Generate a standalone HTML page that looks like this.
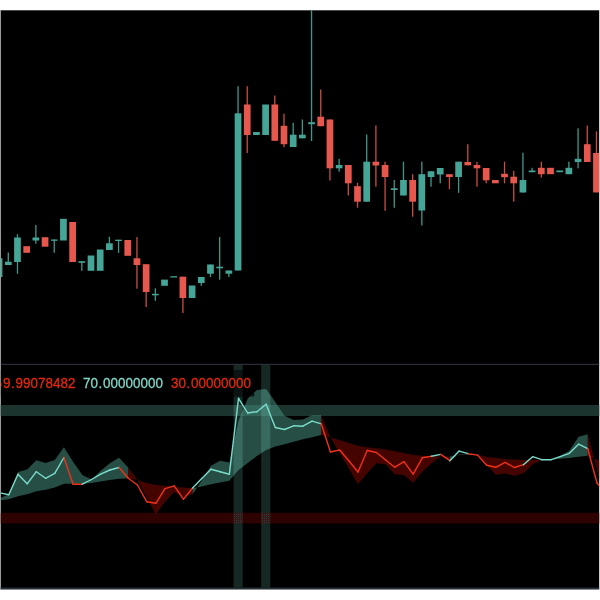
<!DOCTYPE html>
<html><head><meta charset="utf-8"><title>chart</title>
<style>
html,body{margin:0;padding:0;background:#fff;}
body{width:600px;height:600px;overflow:hidden;position:relative;font-family:"Liberation Sans",sans-serif;}
svg{position:absolute;left:0;top:0;display:block}
text{font-family:"Liberation Sans",sans-serif;}
</style></head><body>
<svg width="600" height="600" viewBox="0 0 600 600">
<rect x="0" y="0" width="600" height="600" fill="#ffffff"/>
<rect x="0.6" y="10.3" width="598.6" height="579" fill="#000000"/>
<rect x="0" y="10.2" width="1" height="579" fill="#9a9a9a"/>
<rect x="0.6" y="587.6" width="598.6" height="1.7" fill="#27323d"/>
<clipPath id="c"><rect x="0.8" y="10.2" width="598.4" height="577.5"/></clipPath>
<g clip-path="url(#c)">

<g id="candles">
<rect x="-4.25" y="258.3" width="6.70" height="18.7" fill="#45a597"/>
<rect x="7.64" y="252.5" width="1.3" height="12.5" fill="#3f978a"/>
<rect x="4.94" y="261.7" width="6.70" height="3.3" fill="#45a597"/>
<rect x="16.83" y="234.2" width="1.3" height="39.6" fill="#3f978a"/>
<rect x="14.13" y="237.5" width="6.70" height="24.5" fill="#45a597"/>
<rect x="23.32" y="246.2" width="6.70" height="6.6" fill="#e6584e"/>
<rect x="35.21" y="225.0" width="1.3" height="18.7" fill="#3f978a"/>
<rect x="32.51" y="237.5" width="6.70" height="3.0" fill="#45a597"/>
<rect x="41.70" y="237.2" width="6.70" height="9.5" fill="#e6584e"/>
<rect x="53.59" y="239.5" width="1.3" height="13.3" fill="#3f978a"/>
<rect x="50.89" y="239.5" width="6.70" height="1.3" fill="#45a597"/>
<rect x="60.08" y="218.8" width="6.70" height="21.7" fill="#45a597"/>
<rect x="69.27" y="222.0" width="6.70" height="40.0" fill="#e6584e"/>
<rect x="81.16" y="261.2" width="1.3" height="9.6" fill="#3f978a"/>
<rect x="78.46" y="261.2" width="6.70" height="1.6" fill="#45a597"/>
<rect x="87.65" y="255.5" width="6.70" height="15.3" fill="#45a597"/>
<rect x="96.84" y="249.5" width="6.70" height="21.3" fill="#45a597"/>
<rect x="108.73" y="236.7" width="1.3" height="13.3" fill="#3f978a"/>
<rect x="106.03" y="243.3" width="6.70" height="6.7" fill="#45a597"/>
<rect x="117.92" y="239.7" width="1.3" height="13.1" fill="#3f978a"/>
<rect x="115.22" y="239.7" width="6.70" height="1.3" fill="#45a597"/>
<rect x="124.41" y="240.0" width="6.70" height="15.8" fill="#e6584e"/>
<rect x="136.30" y="237.0" width="1.3" height="51.7" fill="#c94d44"/>
<rect x="133.60" y="258.3" width="6.70" height="6.7" fill="#e6584e"/>
<rect x="145.49" y="264.2" width="1.3" height="42.8" fill="#c94d44"/>
<rect x="142.79" y="264.2" width="6.70" height="27.8" fill="#e6584e"/>
<rect x="154.68" y="288.3" width="1.3" height="12.5" fill="#3f978a"/>
<rect x="151.98" y="293.8" width="6.70" height="1.5" fill="#45a597"/>
<rect x="161.17" y="279.6" width="6.70" height="6.2" fill="#45a597"/>
<rect x="170.36" y="276.2" width="6.70" height="1.3" fill="#45a597"/>
<rect x="182.25" y="276.7" width="1.3" height="36.3" fill="#c94d44"/>
<rect x="179.55" y="276.7" width="6.70" height="21.3" fill="#e6584e"/>
<rect x="188.74" y="285.5" width="6.70" height="12.5" fill="#45a597"/>
<rect x="200.63" y="277.0" width="1.3" height="8.8" fill="#3f978a"/>
<rect x="197.93" y="277.0" width="6.70" height="6.0" fill="#45a597"/>
<rect x="209.82" y="264.5" width="1.3" height="12.5" fill="#3f978a"/>
<rect x="207.12" y="264.5" width="6.70" height="9.2" fill="#45a597"/>
<rect x="219.01" y="237.0" width="1.3" height="42.7" fill="#3f978a"/>
<rect x="216.31" y="266.7" width="6.70" height="1.6" fill="#45a597"/>
<rect x="228.20" y="270.5" width="1.3" height="6.5" fill="#3f978a"/>
<rect x="225.50" y="270.5" width="6.70" height="3.2" fill="#45a597"/>
<rect x="237.39" y="86.2" width="1.3" height="184.3" fill="#3f978a"/>
<rect x="234.69" y="113.3" width="6.70" height="157.2" fill="#45a597"/>
<rect x="246.58" y="86.2" width="1.3" height="66.8" fill="#c94d44"/>
<rect x="243.88" y="104.5" width="6.70" height="30.5" fill="#e6584e"/>
<rect x="253.07" y="132.0" width="6.70" height="3.0" fill="#45a597"/>
<rect x="262.26" y="104.5" width="6.70" height="30.5" fill="#45a597"/>
<rect x="274.15" y="95.5" width="1.3" height="45.3" fill="#c94d44"/>
<rect x="271.45" y="104.5" width="6.70" height="36.3" fill="#e6584e"/>
<rect x="283.34" y="113.7" width="1.3" height="33.5" fill="#c94d44"/>
<rect x="280.64" y="125.8" width="6.70" height="18.4" fill="#e6584e"/>
<rect x="292.53" y="122.8" width="1.3" height="24.2" fill="#3f978a"/>
<rect x="289.83" y="134.7" width="6.70" height="12.3" fill="#45a597"/>
<rect x="301.72" y="119.5" width="1.3" height="18.8" fill="#3f978a"/>
<rect x="299.02" y="134.7" width="6.70" height="3.6" fill="#45a597"/>
<rect x="310.91" y="10.0" width="1.3" height="131.0" fill="#3f978a"/>
<rect x="308.21" y="122.2" width="6.70" height="2.0" fill="#45a597"/>
<rect x="320.10" y="89.5" width="1.3" height="36.7" fill="#c94d44"/>
<rect x="317.40" y="116.7" width="6.70" height="9.5" fill="#e6584e"/>
<rect x="329.29" y="119.5" width="1.3" height="61.0" fill="#c94d44"/>
<rect x="326.59" y="119.5" width="6.70" height="48.8" fill="#e6584e"/>
<rect x="338.48" y="158.8" width="1.3" height="12.9" fill="#3f978a"/>
<rect x="335.78" y="165.0" width="6.70" height="3.3" fill="#45a597"/>
<rect x="347.67" y="165.0" width="1.3" height="30.5" fill="#c94d44"/>
<rect x="344.97" y="165.0" width="6.70" height="18.3" fill="#e6584e"/>
<rect x="356.86" y="182.8" width="1.3" height="25.0" fill="#c94d44"/>
<rect x="354.16" y="186.2" width="6.70" height="15.5" fill="#e6584e"/>
<rect x="366.05" y="134.5" width="1.3" height="67.2" fill="#3f978a"/>
<rect x="363.35" y="161.7" width="6.70" height="40.0" fill="#45a597"/>
<rect x="375.24" y="125.5" width="1.3" height="61.2" fill="#c94d44"/>
<rect x="372.54" y="161.7" width="6.70" height="3.8" fill="#e6584e"/>
<rect x="384.43" y="161.7" width="1.3" height="49.1" fill="#c94d44"/>
<rect x="381.73" y="165.0" width="6.70" height="12.0" fill="#e6584e"/>
<rect x="393.62" y="180.0" width="1.3" height="27.8" fill="#3f978a"/>
<rect x="390.92" y="188.3" width="6.70" height="1.7" fill="#45a597"/>
<rect x="402.81" y="161.7" width="1.3" height="33.8" fill="#3f978a"/>
<rect x="400.11" y="180.0" width="6.70" height="15.5" fill="#45a597"/>
<rect x="412.00" y="174.2" width="1.3" height="42.5" fill="#c94d44"/>
<rect x="409.30" y="180.0" width="6.70" height="21.7" fill="#e6584e"/>
<rect x="421.19" y="161.7" width="1.3" height="63.8" fill="#3f978a"/>
<rect x="418.49" y="174.2" width="6.70" height="36.3" fill="#45a597"/>
<rect x="430.38" y="171.3" width="1.3" height="15.4" fill="#3f978a"/>
<rect x="427.68" y="171.3" width="6.70" height="5.7" fill="#45a597"/>
<rect x="439.57" y="168.0" width="1.3" height="15.3" fill="#3f978a"/>
<rect x="436.87" y="168.0" width="6.70" height="6.5" fill="#45a597"/>
<rect x="448.76" y="174.2" width="1.3" height="15.0" fill="#c94d44"/>
<rect x="446.06" y="174.2" width="6.70" height="2.8" fill="#e6584e"/>
<rect x="457.95" y="161.7" width="1.3" height="31.1" fill="#3f978a"/>
<rect x="455.25" y="161.7" width="6.70" height="15.3" fill="#45a597"/>
<rect x="467.14" y="144.2" width="1.3" height="21.1" fill="#c94d44"/>
<rect x="464.44" y="162.0" width="6.70" height="3.3" fill="#e6584e"/>
<rect x="476.33" y="162.0" width="1.3" height="24.7" fill="#c94d44"/>
<rect x="473.63" y="165.0" width="6.70" height="3.3" fill="#e6584e"/>
<rect x="485.52" y="168.0" width="1.3" height="15.3" fill="#c94d44"/>
<rect x="482.82" y="168.0" width="6.70" height="12.3" fill="#e6584e"/>
<rect x="492.01" y="180.0" width="6.70" height="3.3" fill="#e6584e"/>
<rect x="503.90" y="161.7" width="1.3" height="21.6" fill="#c94d44"/>
<rect x="501.20" y="173.8" width="6.70" height="3.4" fill="#e6584e"/>
<rect x="513.09" y="170.8" width="1.3" height="30.9" fill="#c94d44"/>
<rect x="510.39" y="176.7" width="6.70" height="6.6" fill="#e6584e"/>
<rect x="522.28" y="152.8" width="1.3" height="39.7" fill="#3f978a"/>
<rect x="519.58" y="180.0" width="6.70" height="12.5" fill="#45a597"/>
<rect x="531.47" y="167.8" width="1.3" height="4.4" fill="#3f978a"/>
<rect x="528.77" y="170.5" width="6.70" height="1.7" fill="#45a597"/>
<rect x="540.66" y="161.7" width="1.3" height="15.8" fill="#c94d44"/>
<rect x="537.96" y="167.8" width="6.70" height="6.4" fill="#e6584e"/>
<rect x="547.15" y="167.8" width="6.70" height="6.4" fill="#e6584e"/>
<rect x="556.34" y="170.5" width="6.70" height="1.7" fill="#45a597"/>
<rect x="568.23" y="161.7" width="1.3" height="12.5" fill="#3f978a"/>
<rect x="565.53" y="167.8" width="6.70" height="6.4" fill="#45a597"/>
<rect x="577.42" y="128.3" width="1.3" height="40.0" fill="#3f978a"/>
<rect x="574.72" y="158.8" width="6.70" height="3.2" fill="#45a597"/>
<rect x="586.61" y="125.5" width="1.3" height="36.5" fill="#c94d44"/>
<rect x="583.91" y="144.2" width="6.70" height="17.8" fill="#e6584e"/>
<rect x="595.80" y="131.4" width="1.3" height="61.0" fill="#c94d44"/>
<rect x="593.10" y="153.0" width="6.70" height="39.4" fill="#e6584e"/>
</g>
<rect x="0" y="363.8" width="600" height="1.2" fill="#2b3038"/>
<rect x="0" y="405" width="600" height="11" fill="#1c342e"/>
<rect x="0" y="512.8" width="600" height="10.6" fill="#2d0200"/>
<g id="fills">
<polygon points="-0.40,498.5 8.79,494.3 17.98,472.0 27.17,469.5 36.36,460.3 45.55,463.0 54.74,460.0 63.93,447.2 73.12,461.7 82.31,475.0 91.50,479.5 100.69,470.8 109.88,463.3 119.07,457.8 128.26,467.5 128.26,478.3 119.07,478.7 109.88,480.0 100.69,481.5 91.50,483.0 82.31,483.7 73.12,483.7 63.93,483.7 54.74,487.5 45.55,489.7 36.36,491.3 27.17,494.2 17.98,496.3 8.79,499.3 -0.40,500.2" fill="rgba(72,150,132,0.52)" fill-rule="nonzero"/>
<polygon points="128.26,467.5 137.45,480.0 146.64,497.0 155.83,514.2 165.02,501.7 174.21,492.0 183.40,496.7 192.59,494.2 192.59,488.2 183.40,487.5 174.21,487.0 165.02,485.8 155.83,485.0 146.64,483.0 137.45,480.0 128.26,478.3" fill="rgba(110,8,0,0.62)" fill-rule="nonzero"/>
<polygon points="192.59,494.2 201.78,480.5 210.97,465.8 220.16,460.8 229.35,462.5 238.54,421.0 247.73,398.5 256.92,390.0 266.11,389.0 275.30,402.0 284.49,415.8 293.68,420.0 302.87,419.5 312.06,415.3 321.25,415.3 321.25,435.0 312.06,437.2 302.87,439.2 293.68,441.7 284.49,444.2 275.30,446.5 266.11,450.0 256.92,456.0 247.73,463.0 238.54,470.0 229.35,480.8 220.16,482.5 210.97,484.2 201.78,486.5 192.59,488.2" fill="rgba(72,150,132,0.52)" fill-rule="nonzero"/>
<polygon points="321.25,415.3 330.44,437.5 339.63,453.0 348.82,468.5 358.01,484.2 367.20,473.3 376.39,463.3 385.58,464.2 394.77,474.2 403.96,475.0 413.15,482.8 422.34,471.7 431.53,463.3 440.72,456.2 449.91,459.5 449.91,456.4 440.72,456.2 431.53,456.2 422.34,455.8 413.15,455.0 403.96,453.0 394.77,451.3 385.58,449.5 376.39,448.3 367.20,447.2 358.01,445.8 348.82,443.0 339.63,440.0 330.44,437.5 321.25,435.0" fill="rgba(110,8,0,0.62)" fill-rule="nonzero"/>
<polygon points="449.91,459.5 459.10,454.6 468.29,454.2 477.48,455.1 477.48,455.1 468.29,454.8 459.10,455.0 449.91,456.4" fill="rgba(72,150,132,0.52)" fill-rule="nonzero"/>
<polygon points="477.48,455.1 486.67,464.9 495.86,474.7 505.05,473.6 514.24,475.8 523.43,473.3 532.62,464.2 541.81,460.0 541.81,459.7 532.62,459.8 523.43,460.0 514.24,459.5 505.05,459.0 495.86,458.0 486.67,456.7 477.48,455.1" fill="rgba(110,8,0,0.62)" fill-rule="nonzero"/>
<polygon points="541.81,460.0 551.00,459.7 560.19,455.8 569.38,450.8 578.57,436.7 587.76,434.2 587.76,455.8 578.57,456.7 569.38,458.0 560.19,458.7 551.00,459.7 541.81,459.7" fill="rgba(72,150,132,0.52)" fill-rule="nonzero"/>
<polygon points="587.76,434.2 596.95,470.0 606.14,504.0 606.14,462.0 596.95,459.8 587.76,455.8" fill="rgba(110,8,0,0.62)" fill-rule="nonzero"/>
</g>
<rect x="233.59" y="365" width="9.1" height="223" fill="rgb(22,40,36)" style="mix-blend-mode:screen"/>
<rect x="261.16" y="365" width="9.1" height="223" fill="rgb(22,40,36)" style="mix-blend-mode:screen"/>
<defs><pattern id="dt" width="2" height="2" patternUnits="userSpaceOnUse"><rect x="0" y="0" width="1" height="1" fill="#2f6a5e"/></pattern></defs>
<rect x="233.74" y="512.8" width="9" height="10.6" fill="rgb(50,26,24)"/>
<rect x="234.24" y="513.3" width="8" height="9.6" fill="url(#dt)" opacity="0.45"/>
<rect x="261.31" y="512.8" width="9" height="10.6" fill="rgb(50,26,24)"/>
<rect x="261.81" y="513.3" width="8" height="9.6" fill="url(#dt)" opacity="0.45"/>
<rect x="251.6" y="393.6" width="2.8" height="2.2" fill="#0a1412" opacity="0.8"/>
<rect x="0" y="370" width="254" height="26.6" fill="rgba(0,0,0,0.5)"/>
<g id="lines" fill="none" stroke-width="1.4" stroke-linejoin="round" stroke-linecap="round">
<line x1="-0.40" y1="492.8" x2="8.79" y2="494.7" stroke="#79dccb"/>
<line x1="8.79" y1="494.7" x2="17.98" y2="474.3" stroke="#79dccb"/>
<line x1="17.98" y1="474.3" x2="27.17" y2="483.8" stroke="#79dccb"/>
<line x1="27.17" y1="483.8" x2="36.36" y2="471.7" stroke="#79dccb"/>
<line x1="36.36" y1="471.7" x2="45.55" y2="478.3" stroke="#79dccb"/>
<line x1="45.55" y1="478.3" x2="54.74" y2="473.3" stroke="#79dccb"/>
<line x1="54.74" y1="473.3" x2="63.93" y2="457.5" stroke="#79dccb"/>
<line x1="63.93" y1="457.5" x2="73.12" y2="484.2" stroke="#f0311a"/>
<line x1="73.12" y1="484.2" x2="82.31" y2="484.2" stroke="#f0311a"/>
<line x1="82.31" y1="484.2" x2="91.50" y2="479.5" stroke="#79dccb"/>
<line x1="91.50" y1="479.5" x2="100.69" y2="474.2" stroke="#79dccb"/>
<line x1="100.69" y1="474.2" x2="109.88" y2="470.0" stroke="#79dccb"/>
<line x1="109.88" y1="470.0" x2="119.07" y2="467.5" stroke="#79dccb"/>
<line x1="119.07" y1="467.5" x2="128.26" y2="478.3" stroke="#f0311a"/>
<line x1="128.26" y1="478.3" x2="137.45" y2="485.0" stroke="#f0311a"/>
<line x1="137.45" y1="485.0" x2="146.64" y2="501.7" stroke="#f0311a"/>
<line x1="146.64" y1="501.7" x2="155.83" y2="503.3" stroke="#f0311a"/>
<line x1="155.83" y1="503.3" x2="165.02" y2="488.7" stroke="#f0311a"/>
<line x1="165.02" y1="488.7" x2="174.21" y2="485.8" stroke="#f0311a"/>
<line x1="174.21" y1="485.8" x2="183.40" y2="499.2" stroke="#f0311a"/>
<line x1="183.40" y1="499.2" x2="192.59" y2="488.0" stroke="#f0311a"/>
<line x1="192.59" y1="488.0" x2="201.78" y2="478.5" stroke="#79dccb"/>
<line x1="201.78" y1="478.5" x2="210.97" y2="469.2" stroke="#79dccb"/>
<line x1="210.97" y1="469.2" x2="220.16" y2="471.7" stroke="#79dccb"/>
<line x1="220.16" y1="471.7" x2="229.35" y2="474.2" stroke="#79dccb"/>
<line x1="229.35" y1="474.2" x2="238.54" y2="398.3" stroke="#79dccb"/>
<line x1="238.54" y1="398.3" x2="247.73" y2="413.0" stroke="#79dccb"/>
<line x1="247.73" y1="413.0" x2="256.92" y2="411.7" stroke="#79dccb"/>
<line x1="256.92" y1="411.7" x2="266.11" y2="404.2" stroke="#79dccb"/>
<line x1="266.11" y1="404.2" x2="275.30" y2="427.5" stroke="#79dccb"/>
<line x1="275.30" y1="427.5" x2="284.49" y2="429.5" stroke="#79dccb"/>
<line x1="284.49" y1="429.5" x2="293.68" y2="425.8" stroke="#79dccb"/>
<line x1="293.68" y1="425.8" x2="302.87" y2="426.2" stroke="#79dccb"/>
<line x1="302.87" y1="426.2" x2="312.06" y2="421.2" stroke="#79dccb"/>
<line x1="312.06" y1="421.2" x2="321.25" y2="423.8" stroke="#79dccb"/>
<line x1="321.25" y1="423.8" x2="330.44" y2="452.0" stroke="#f0311a"/>
<line x1="330.44" y1="452.0" x2="339.63" y2="450.0" stroke="#f0311a"/>
<line x1="339.63" y1="450.0" x2="348.82" y2="460.8" stroke="#f0311a"/>
<line x1="348.82" y1="460.8" x2="358.01" y2="472.0" stroke="#f0311a"/>
<line x1="358.01" y1="472.0" x2="367.20" y2="450.5" stroke="#f0311a"/>
<line x1="367.20" y1="450.5" x2="376.39" y2="452.5" stroke="#f0311a"/>
<line x1="376.39" y1="452.5" x2="385.58" y2="460.0" stroke="#f0311a"/>
<line x1="385.58" y1="460.0" x2="394.77" y2="467.2" stroke="#f0311a"/>
<line x1="394.77" y1="467.2" x2="403.96" y2="461.7" stroke="#f0311a"/>
<line x1="403.96" y1="461.7" x2="413.15" y2="474.2" stroke="#f0311a"/>
<line x1="413.15" y1="474.2" x2="422.34" y2="457.8" stroke="#f0311a"/>
<line x1="422.34" y1="457.8" x2="431.53" y2="456.2" stroke="#f0311a"/>
<line x1="431.53" y1="456.2" x2="440.72" y2="454.4" stroke="#79dccb"/>
<line x1="440.72" y1="454.4" x2="449.91" y2="460.7" stroke="#f0311a"/>
<line x1="449.91" y1="460.7" x2="459.10" y2="451.1" stroke="#79dccb"/>
<line x1="459.10" y1="451.1" x2="468.29" y2="453.7" stroke="#79dccb"/>
<line x1="468.29" y1="453.7" x2="477.48" y2="455.1" stroke="#f0311a"/>
<line x1="477.48" y1="455.1" x2="486.67" y2="465.3" stroke="#f0311a"/>
<line x1="486.67" y1="465.3" x2="495.86" y2="467.3" stroke="#f0311a"/>
<line x1="495.86" y1="467.3" x2="505.05" y2="462.4" stroke="#f0311a"/>
<line x1="505.05" y1="462.4" x2="514.24" y2="467.5" stroke="#f0311a"/>
<line x1="514.24" y1="467.5" x2="523.43" y2="464.7" stroke="#f0311a"/>
<line x1="523.43" y1="464.7" x2="532.62" y2="456.7" stroke="#79dccb"/>
<line x1="532.62" y1="456.7" x2="541.81" y2="459.7" stroke="#79dccb"/>
<line x1="541.81" y1="459.7" x2="551.00" y2="459.7" stroke="#79dccb"/>
<line x1="551.00" y1="459.7" x2="560.19" y2="456.7" stroke="#79dccb"/>
<line x1="560.19" y1="456.7" x2="569.38" y2="453.3" stroke="#79dccb"/>
<line x1="569.38" y1="453.3" x2="578.57" y2="444.2" stroke="#79dccb"/>
<line x1="578.57" y1="444.2" x2="587.76" y2="448.7" stroke="#79dccb"/>
<line x1="587.76" y1="448.7" x2="596.95" y2="482.7" stroke="#f0311a"/>
<line x1="596.95" y1="482.7" x2="606.14" y2="494.7" stroke="#f0311a"/>
</g>
<text transform="scale(0.92,1)" x="-6.07 3.17 12.05 16.87 25.02 33.17 41.32 49.47 57.63 65.78 73.93" y="388.3" font-size="14.6" fill="#e5290b" stroke="#e5290b" stroke-width="0.3">59.99078482</text>
<text transform="scale(0.92,1)" x="90.13 98.28 107.16 111.97 120.13 128.28 136.43 144.58 152.73 160.89 169.04" y="388.3" font-size="14.6" fill="#7fd9c9" stroke="#7fd9c9" stroke-width="0.3">70.00000000</text>
<text transform="scale(0.92,1)" x="185.78 193.93 202.81 207.63 215.78 223.93 232.08 240.23 248.39 256.54 264.69" y="388.3" font-size="14.6" fill="#e5290b" stroke="#e5290b" stroke-width="0.3">30.00000000</text>
</g></svg></body></html>
